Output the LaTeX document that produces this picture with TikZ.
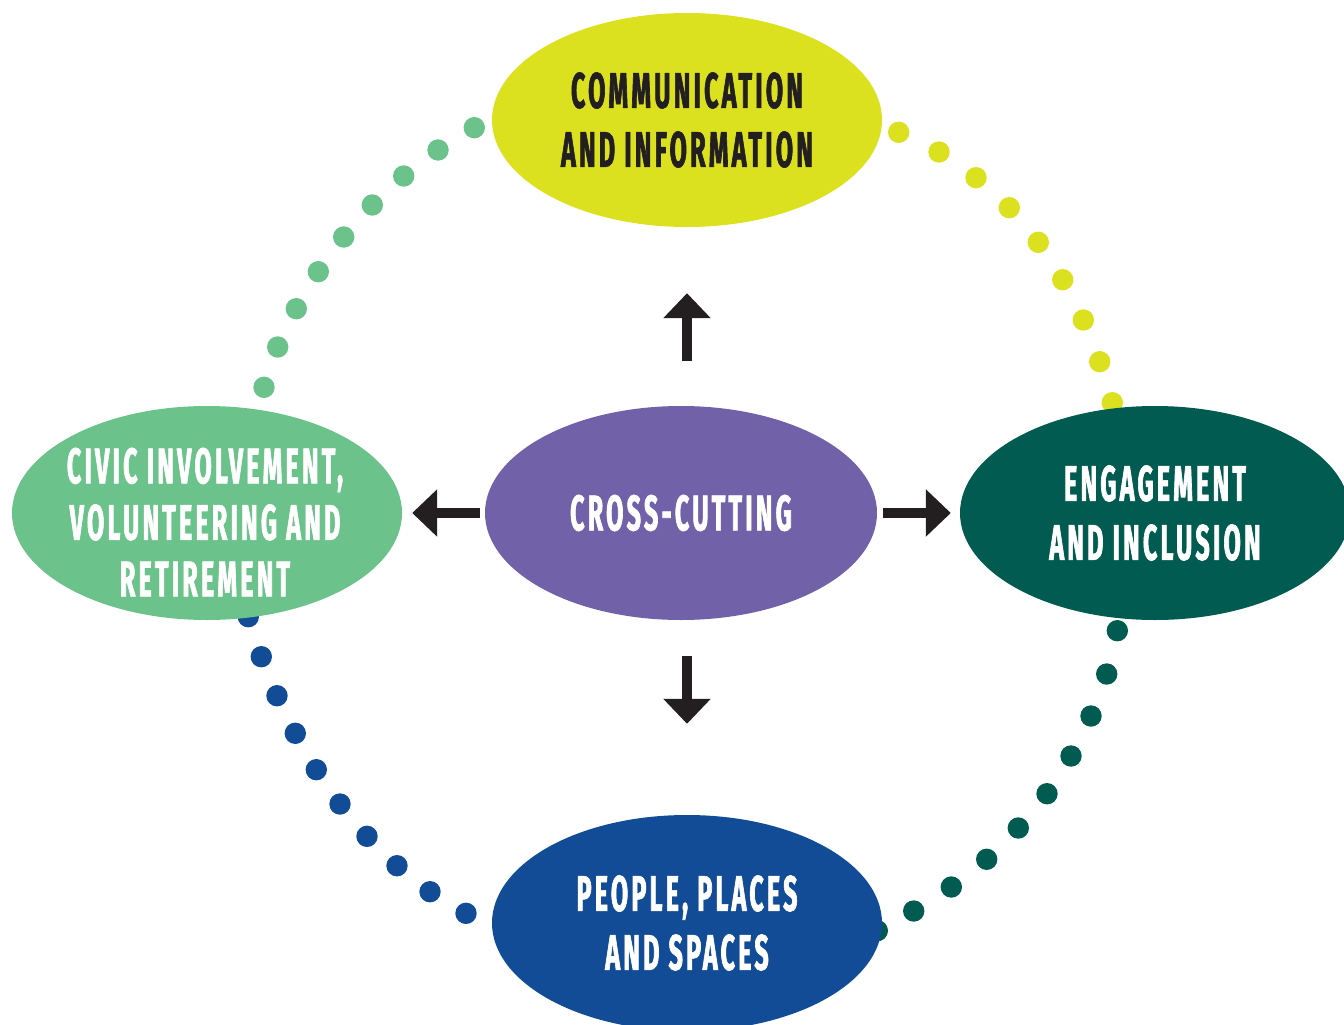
\documentclass[tikz,border=0pt]{standalone}
\usepackage{fontspec}
\newfontfamily\condfont{Fira Sans}[FakeStretch=0.5,FakeBold=1.3,LetterSpace=6.5]
\usetikzlibrary{shapes.geometric,arrows.meta}
\definecolor{cyellow}{RGB}{220,225,31}
\definecolor{cpurple}{RGB}{113,97,169}
\definecolor{cgreen}{RGB}{107,194,138}
\definecolor{cteal}{RGB}{1,91,80}
\definecolor{cblue}{RGB}{19,76,150}
\definecolor{cblack}{RGB}{35,31,32}
\begin{document}
\begin{tikzpicture}[x=1pt,y=-1pt,
  blob/.style={ellipse, minimum width=390pt, minimum height=214pt, inner sep=0pt, draw=none},
  lbl/.style={font=\condfont\bfseries\fontsize{50}{59}\selectfont, align=center, inner sep=0pt},
  pip/.style={radius=10.7pt},
  arr/.style={line width=10.5pt, draw=cblack, -{Triangle[length=25pt,width=46pt]}}]
\useasboundingbox (0,0) rectangle (1344,1025);
\clip (0,0) rectangle (1344,1025);
% dotted arcs
\foreach \p in {(474.3,127.7),(438,150),(403.7,176),(372.3,205),(343.7,237),(318.3,271.7),(296.3,308.7),(277.7,347),(264,387.3)}
  \fill[cgreen,pip] \p circle;
\foreach \p in {(898.7,132.3),(939,152),(976,177.7),(1009.3,207.7),(1038.3,242.3),(1062.7,279.7),(1083.3,320),(1099.7,361.7),(1112.3,402.7)}
  \fill[cyellow,pip] \p circle;
\foreach \p in {(248.3,616.7),(261.3,656.7),(277,695.7),(295.3,733.3),(316.3,769.7),(340,804),(367,836.3),(397,865.7),(430,891.7),(466,913.3)}
  \fill[cblue,pip] \p circle;
\foreach \p in {(1117.3,630.7),(1106.7,674),(1091,716),(1071,756),(1047,793.7),(1018.3,828),(986.7,859.3),(951.3,887),(913.7,911),(877.3,930.7)}
  \fill[cteal,pip] \p circle;
% ellipses
\node[blob, fill=cyellow] (top) at (687,120) {};
\node[blob, fill=cpurple, minimum width=392pt] (cc) at (681,513) {};
\node[blob, fill=cgreen] (left) at (207,513) {};
\node[blob, fill=cteal] (right) at (1155,513) {};
\node[blob, fill=cblue, minimum height=216pt] (bottom) at (687,923) {};
% labels
\node[lbl, text=cblack] (toptext) at (top.center) {COMMUNICATION\\AND INFORMATION};
\node[lbl, text=white] (cctext) at (cc.center) {CROSS-CUTTING};
\node[lbl, text=white, font=\condfont\bfseries\fontsize{50}{56.5}\selectfont, xshift=-2pt, yshift=-9pt] (lefttext) at (left.center) {CIVIC INVOLVEMENT,\\VOLUNTEERING AND\\RETIREMENT};
\node[lbl, text=white] (righttext) at (right.center) {ENGAGEMENT\\AND INCLUSION};
\node[lbl, text=white] (bottomtext) at (bottom.center) {PEOPLE, PLACES\\AND SPACES};
% arrows
\draw[arr, shorten <=45pt, shorten >=66pt] (top.south |- cc.north) -- (top.south);
\draw[arr, shorten <=36pt, shorten >=91pt] (bottom.north |- cc.south) -- (bottom.north);
\draw[arr, shorten <=5pt, shorten >=10pt] (cc.west) -- (left.east);
\draw[arr, shorten <=6pt, shorten >=9pt] (cc.east) -- (right.west);
\end{tikzpicture}
\end{document}
